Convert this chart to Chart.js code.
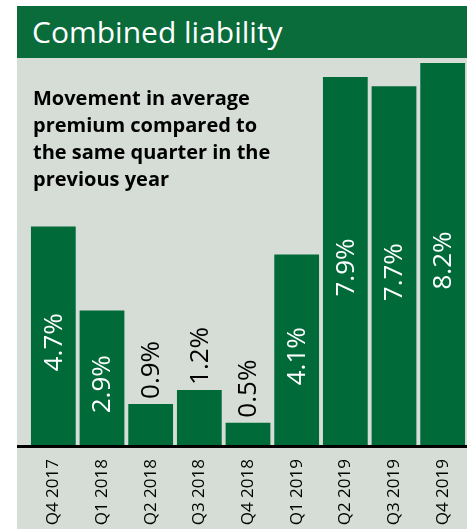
<!DOCTYPE html>
<html><head><meta charset="utf-8">
<script src="https://cdn.jsdelivr.net/npm/chart.js@4.4.1/dist/chart.umd.min.js"></script>
<style>
html,body{margin:0;padding:0;background:#fff;}
#wrap{position:relative;width:467px;height:529px;overflow:hidden;}
#c{position:absolute;left:0;top:0;}
#title{position:absolute;left:17px;top:6px;width:450px;height:52px;background:#0a6b3b;color:#fff;
 font-family:"Open Sans",sans-serif;font-size:30px;line-height:52px;padding-left:15px;box-sizing:border-box;}
#sub{position:absolute;left:33px;top:84px;font-family:"Open Sans",sans-serif;font-weight:bold;font-size:20px;line-height:27px;color:#000;}
</style></head>
<body><div id="wrap">
<canvas id="c" width="467" height="529"></canvas>
<div id="title">Combined liability</div>
<div id="sub">Movement in average<br>premium compared to<br>the same quarter in the<br>previous year</div>
</div>
<script>
const categories = ["Q4 2017","Q1 2018","Q2 2018","Q3 2018","Q4 2018","Q1 2019","Q2 2019","Q3 2019","Q4 2019"];
const values = [4.7, 2.9, 0.9, 1.2, 0.5, 4.1, 7.9, 7.7, 8.2];
const valueLabels = ["4.7%","2.9%","0.9%","1.2%","0.5%","4.1%","7.9%","7.7%","8.2%"];

const bgPlugin = {
  id:'bg',
  beforeDraw(chart){
    const ctx = chart.ctx;
    ctx.save();
    ctx.fillStyle='#ffffff'; ctx.fillRect(0,0,467,529);
    ctx.fillStyle='#d6ddd7'; ctx.fillRect(17,58,450,471);
    ctx.restore();
  },
  afterDatasetsDraw(chart){
    const ctx = chart.ctx;
    const meta = chart.getDatasetMeta(0);
    const base = chart.scales.y.getPixelForValue(0);
    ctx.save();
    ctx.fillStyle='#000'; ctx.fillRect(17, base-1, 450, 3);
    ctx.font='26px "Open Sans", sans-serif';
    ctx.textBaseline='middle';
    meta.data.forEach((bar,i)=>{
      const v = values[i];
      ctx.save();
      if (v >= 2) {
        ctx.translate(bar.x, (bar.y + bar.base)/2 + 6);
        ctx.rotate(-Math.PI/2);
        ctx.fillStyle='#ffffff';
        ctx.textAlign='center';
      } else {
        ctx.translate(bar.x, bar.y - 5);
        ctx.rotate(-Math.PI/2);
        ctx.fillStyle='#000000';
        ctx.textAlign='left';
      }
      ctx.fillText(valueLabels[i], 0, 1);
      ctx.restore();
    });
    ctx.restore();
  }
};

new Chart(document.getElementById('c'), {
  type:'bar',
  data:{ labels: categories, datasets:[{ data: values, backgroundColor:'#006a39', borderWidth:0, barPercentage:0.92, categoryPercentage:1 }]},
  options:{
    responsive:false, animation:false, devicePixelRatio:1,
    layout:{ padding:{ left:29, right:0, top:63, bottom:0 } },
    plugins:{ legend:{display:false}, tooltip:{enabled:false}, title:{display:false} },
    scales:{
      y:{ display:false, min:0, max:8.2 },
      x:{
        grid:{ display:false, drawTicks:false },
        border:{ display:false },
        ticks:{ color:'#000', font:{ family:'"Open Sans", sans-serif', size:17 }, minRotation:90, maxRotation:90, padding:13, autoSkip:false },
        afterFit(s){ s.height = 83; s.paddingLeft = 0; s.paddingRight = 0; }
      }
    }
  },
  plugins:[bgPlugin]
});
</script>
</body></html>
